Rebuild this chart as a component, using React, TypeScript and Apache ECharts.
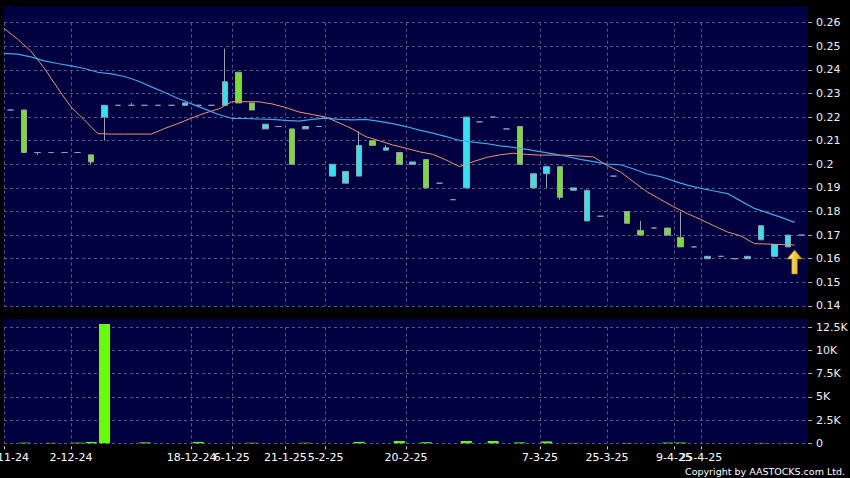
import React, { useEffect, useRef } from 'react';
import * as echarts from 'echarts';

// trading sessions (60) and session boundaries (61) used for MA lines / date ticks
const sessions = Array.from({ length: 60 }, (_, i) => `S${i + 1}`);
const boundaries = Array.from({ length: 61 }, (_, k) => String(k));

const opens = [
  0.223, 0.223, 0.205, 0.205, 0.205, 0.205, 0.204, 0.220, 0.225, 0.225,
  0.225, 0.225, 0.225, 0.225, 0.225, 0.225, 0.225, 0.239, 0.226, 0.215,
  0.216, 0.215, 0.215, 0.216, 0.195, 0.192, 0.195, 0.210, 0.206, 0.205,
  0.200, 0.202, 0.192, 0.185, 0.190, 0.218, 0.220, 0.215, 0.216, 0.190,
  0.196, 0.199, 0.189, 0.176, 0.178, 0.195, 0.180, 0.172, 0.173, 0.173,
  0.169, 0.165, 0.160, 0.161, 0.160, 0.160, 0.168, 0.161, 0.165, 0.170,
];
const closes = [
  0.223, 0.205, 0.205, 0.205, 0.205, 0.205, 0.201, 0.225, 0.225, 0.225,
  0.225, 0.225, 0.225, 0.226, 0.225, 0.225, 0.235, 0.226, 0.223, 0.217,
  0.216, 0.200, 0.216, 0.216, 0.200, 0.197, 0.208, 0.208, 0.207, 0.200,
  0.201, 0.190, 0.192, 0.185, 0.220, 0.218, 0.220, 0.215, 0.200, 0.196,
  0.199, 0.186, 0.190, 0.189, 0.178, 0.195, 0.175, 0.170, 0.173, 0.170,
  0.165, 0.165, 0.161, 0.161, 0.160, 0.161, 0.174, 0.166, 0.170, 0.170,
];
const lows = [
  0.223, 0.205, 0.204, 0.205, 0.205, 0.205, 0.200, 0.210, 0.225, 0.225,
  0.225, 0.225, 0.225, 0.225, 0.225, 0.225, 0.225, 0.226, 0.223, 0.215,
  0.216, 0.200, 0.215, 0.216, 0.195, 0.192, 0.195, 0.208, 0.206, 0.200,
  0.200, 0.190, 0.192, 0.185, 0.190, 0.218, 0.220, 0.215, 0.200, 0.190,
  0.190, 0.185, 0.189, 0.176, 0.178, 0.195, 0.175, 0.170, 0.173, 0.170,
  0.165, 0.165, 0.160, 0.161, 0.160, 0.160, 0.168, 0.161, 0.165, 0.170,
];
const highs = [
  0.223, 0.223, 0.205, 0.205, 0.205, 0.205, 0.204, 0.225, 0.225, 0.226,
  0.225, 0.225, 0.225, 0.226, 0.225, 0.225, 0.249, 0.239, 0.226, 0.217,
  0.216, 0.215, 0.216, 0.216, 0.200, 0.197, 0.214, 0.210, 0.208, 0.205,
  0.201, 0.202, 0.192, 0.185, 0.220, 0.218, 0.220, 0.215, 0.216, 0.196,
  0.199, 0.199, 0.190, 0.189, 0.178, 0.195, 0.180, 0.176, 0.173, 0.173,
  0.180, 0.165, 0.161, 0.161, 0.160, 0.161, 0.174, 0.166, 0.170, 0.170,
];
const volumes = [
  0, 70, 0, 50, 0, 70, 150, 12850, 0, 0,
  100, 0, 0, 0, 150, 0, 0, 0, 60, 0,
  0, 0, 60, 0, 0, 0, 150, 0, 0, 250,
  0, 120, 0, 0, 250, 0, 250, 0, 100, 0,
  200, 0, 40, 0, 0, 0, 40, 0, 0, 80,
  80, 0, 0, 0, 0, 0, 40, 0, 40, 0,
];
const maShort = [
  0.2576, 0.2531, 0.2480, 0.2408, 0.2323, 0.2243, 0.2188, 0.2130, 0.2128, 0.2128,
  0.2128, 0.2128, 0.2152, 0.2173, 0.2196, 0.2217, 0.2234, 0.2265, 0.2265, 0.2265,
  0.2256, 0.2241, 0.2222, 0.2211, 0.2200, 0.2176, 0.2150, 0.2117, 0.2100, 0.2082,
  0.2068, 0.2053, 0.2042, 0.2018, 0.1990, 0.2011, 0.2029, 0.2040, 0.2047, 0.2042,
  0.2039, 0.2039, 0.2038, 0.2035, 0.2031, 0.1995, 0.1968, 0.1925, 0.1883, 0.1851,
  0.1819, 0.1791, 0.1766, 0.1739, 0.1713, 0.1696, 0.1664, 0.1662, 0.1660, 0.1658,
];
const maLong = [
  0.2470, 0.2467, 0.2455, 0.2438, 0.2427, 0.2417, 0.2406, 0.2390, 0.2383, 0.2372,
  0.2353, 0.2328, 0.2304, 0.2279, 0.2256, 0.2234, 0.2211, 0.2195, 0.2194, 0.2192,
  0.2190, 0.2186, 0.2183, 0.2190, 0.2196, 0.2190, 0.2188, 0.2190, 0.2182, 0.2172,
  0.2160, 0.2145, 0.2132, 0.2117, 0.2101, 0.2094, 0.2088, 0.2078, 0.2072, 0.2063,
  0.2054, 0.2044, 0.2033, 0.2021, 0.2011, 0.2001, 0.1998, 0.1980, 0.1959, 0.1948,
  0.1929, 0.1912, 0.1898, 0.1887, 0.1876, 0.1844, 0.1813, 0.1794, 0.1775, 0.1754,
];
// date ticks at session boundaries; the second group is drawn by a twin axis so that
// overlapping labels (as in the original) are both kept
const tickIndex = [0, 5, 14, 17, 21, 24, 30, 40, 45, 50];
const tickText = ['25-11-24', '2-12-24', '18-12-24', '6-1-25', '21-1-25', '5-2-25', '20-2-25', '7-3-25', '25-3-25', '9-4-25'];
const tickIndex2 = [52];
const tickText2 = ['25-4-25'];
const arrowAt = { index: 59, price: 0.1586 };

const GRID_LINE = { color: '#56568c', type: [3, 3] as number[], width: 1 };
const LABEL = { color: '#f0f0f0', fontFamily: 'DejaVu Sans', fontSize: 11 };
const isTick = (i: number) => tickIndex.includes(i);
const isTick2 = (i: number) => tickIndex2.includes(i);
const isAnyTick = (i: number) => isTick(i) || isTick2(i);

const labelAxis = (test: (i: number) => boolean, idx: number[], txt: string[], withSplit: boolean) => ({
  type: 'category', gridIndex: 1, data: boundaries, boundaryGap: false, position: 'bottom', offset: 3,
  axisLine: { show: false },
  axisTick: { show: true, interval: (i: number) => test(i), length: 3, lineStyle: { color: '#cccccc' } },
  axisLabel: {
    ...LABEL, color: '#ffffff', margin: 6, hideOverlap: false,
    interval: (i: number) => test(i),
    formatter: (_v: string, i: number) => (test(i) ? txt[idx.indexOf(i)] : ''),
  },
  splitLine: { show: withSplit, interval: (i: number) => isAnyTick(i), lineStyle: GRID_LINE },
});

export default function App() {
  const ref = useRef<HTMLDivElement>(null);
  useEffect(() => {
    document.body.style.margin = '0';
    document.body.style.background = '#000';
    const chart = echarts.init(ref.current!, null, { renderer: 'svg' });
    const candles = sessions.map((_, i) => [opens[i], closes[i], lows[i], highs[i]]);
    chart.setOption({
      animation: false,
      backgroundColor: '#000',
      grid: [
        { left: 4, right: 42, top: 22.7, height: 283.2, containLabel: false, outerBoundsMode: 'none' },
        { left: 4, right: 42, top: 327.3, height: 116, containLabel: false, outerBoundsMode: 'none' },
      ],
      xAxis: [
        { type: 'category', gridIndex: 0, data: sessions, boundaryGap: true, show: false, position: 'top' },
        {
          type: 'category', gridIndex: 0, data: boundaries, boundaryGap: false, position: 'bottom',
          axisLine: { show: false }, axisTick: { show: false }, axisLabel: { show: false },
          splitLine: { show: true, interval: (i: number) => isAnyTick(i), lineStyle: GRID_LINE },
        },
        { type: 'category', gridIndex: 1, data: sessions, boundaryGap: true, show: false, position: 'top' },
        labelAxis(isTick, tickIndex, tickText, true),
        labelAxis(isTick2, tickIndex2, tickText2, false),
      ],
      yAxis: [
        {
          type: 'value', gridIndex: 0, position: 'right', min: 0.14, max: 0.26, interval: 0.01,
          axisLine: { show: false },
          axisTick: { show: true, length: 4, lineStyle: { color: '#aaaaaa' } },
          axisLabel: { ...LABEL, margin: 8 },
          splitLine: { show: true, lineStyle: GRID_LINE },
        },
        {
          type: 'value', gridIndex: 1, position: 'right', min: 0, max: 12500, interval: 2500,
          axisLine: { show: false },
          axisTick: { show: true, length: 4, lineStyle: { color: '#aaaaaa' } },
          axisLabel: { ...LABEL, margin: 8, formatter: (v: number) => (v === 0 ? '0' : `${v / 1000}K`) },
          splitLine: { show: true, lineStyle: GRID_LINE },
        },
      ],
      series: [
        {
          type: 'candlestick', xAxisIndex: 0, yAxisIndex: 0, data: candles, barWidth: 6,
          itemStyle: {
            color: '#2ee4f0', color0: '#76e02c',
            borderColor: '#9a9fa8', borderColor0: '#9a9fa8', borderColorDoji: '#8e9cb4', borderWidth: 1,
          },
        },
        {
          type: 'line', xAxisIndex: 1, yAxisIndex: 0, data: maShort, showSymbol: false, z: 3,
          lineStyle: { color: '#e8966c', width: 1 },
          markPoint: {
            symbol: 'path://M8,0 L16,9 L11,9 L11,24 L5,24 L5,9 L0,9 Z',
            symbolSize: [15, 24], symbolKeepAspect: false,
            label: { show: false },
            itemStyle: {
              color: new echarts.graphic.LinearGradient(0, 0, 1, 0, [
                { offset: 0, color: '#fff27a' }, { offset: 1, color: '#e3a100' },
              ]),
              borderColor: '#b07800', borderWidth: 0.5,
            },
            data: [{ coord: [arrowAt.index, arrowAt.price] }],
          },
        },
        {
          type: 'line', xAxisIndex: 1, yAxisIndex: 0, data: maLong, showSymbol: false, z: 3,
          lineStyle: { color: '#3fa6ea', width: 1.2 },
        },
        {
          type: 'bar', xAxisIndex: 2, yAxisIndex: 1, data: volumes, barWidth: 11, clip: false,
          itemStyle: { color: '#66ff00', borderWidth: 0 },
        },
      ],
      graphic: [
        { type: 'rect', z: -10, silent: true, shape: { x: 4, y: 6, width: 804, height: 301 }, style: { fill: '#000040' } },
        { type: 'rect', z: -10, silent: true, shape: { x: 4, y: 319, width: 804, height: 124.3 }, style: { fill: '#000040' } },
        {
          type: 'text', z: 10, silent: true, x: 845, y: 471,
          style: {
            text: 'Copyright by AASTOCKS.com Ltd.', fill: '#ffffff', align: 'right', verticalAlign: 'middle',
            font: '9.5px "DejaVu Sans"',
          },
        },
      ],
    });
    return () => chart.dispose();
  }, []);
  return <div ref={ref} style={{ position: 'absolute', left: 0, top: 0, width: 850, height: 478 }} />;
}
